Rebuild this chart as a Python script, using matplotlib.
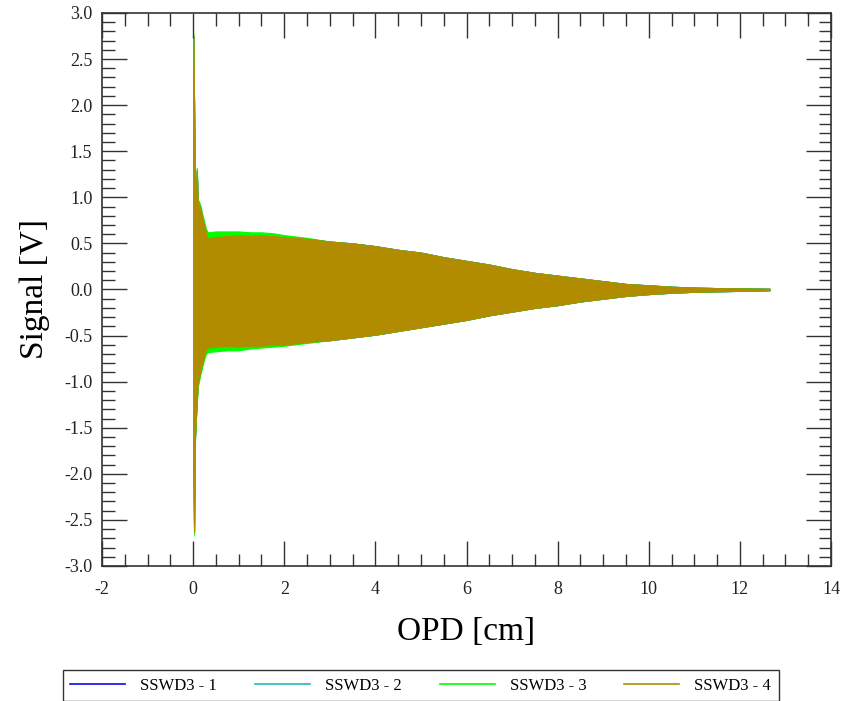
import numpy as np
import matplotlib.pyplot as plt
from matplotlib.lines import Line2D

plt.rcParams['font.family'] = ['Liberation Serif', 'DejaVu Serif']
plt.rcParams['axes.unicode_minus'] = False

# envelope of each interferogram (OPD in cm, signal in V)
opd = [0.00, 0.02, 0.04, 0.06, 0.08, 0.10, 0.13, 0.16, 0.20, 0.24, 0.28, 0.32,
       0.5, 0.75, 1.0, 1.25, 1.5, 1.75, 2.0, 2.5, 3.0, 3.5, 4.0, 4.5, 5.0, 5.5,
       6.0, 6.5, 7.0, 7.5, 8.0, 8.5, 9.0, 9.5, 10.0, 10.5, 11.0, 11.5, 12.0,
       12.3, 12.65]

sswd4_hi = [2.75, 2.02, 1.06, 1.05, 1.30, 0.95, 0.92, 0.88, 0.78, 0.70, 0.62, 0.55,
            0.57, 0.58, 0.59, 0.58, 0.59, 0.58, 0.57, 0.55, 0.52, 0.50, 0.47, 0.43,
            0.40, 0.35, 0.31, 0.27, 0.22, 0.18, 0.15, 0.12, 0.09, 0.06, 0.045,
            0.03, 0.02, 0.015, 0.012, 0.01, 0.008]
sswd4_lo = [-1.60, -2.63, -1.60, -1.38, -1.20, -1.02, -0.95, -0.88, -0.80, -0.72,
            -0.66, -0.63, -0.62, -0.61, -0.62, -0.61, -0.61, -0.60, -0.60, -0.57,
            -0.55, -0.52, -0.49, -0.45, -0.41, -0.37, -0.33, -0.28, -0.24, -0.20,
            -0.17, -0.13, -0.10, -0.07, -0.05, -0.035, -0.025, -0.02, -0.015,
            -0.012, -0.008]

sswd3_hi = [2.77, 2.04, 1.08, 1.08, 1.32, 0.98, 0.95, 0.91, 0.82, 0.74, 0.66, 0.62,
            0.63, 0.63, 0.63, 0.62, 0.62, 0.61, 0.59, 0.56, 0.52, 0.50, 0.47, 0.43,
            0.40, 0.35, 0.31, 0.27, 0.22, 0.18, 0.15, 0.12, 0.09, 0.06, 0.045,
            0.03, 0.02, 0.015, 0.012, 0.01, 0.008]
sswd3_lo = [-1.62, -2.66, -1.63, -1.42, -1.24, -1.06, -0.99, -0.92, -0.84, -0.76,
            -0.70, -0.68, -0.67, -0.66, -0.66, -0.64, -0.63, -0.62, -0.61, -0.58,
            -0.55, -0.52, -0.49, -0.45, -0.41, -0.37, -0.33, -0.28, -0.24, -0.20,
            -0.17, -0.13, -0.10, -0.07, -0.05, -0.035, -0.025, -0.02, -0.015,
            -0.012, -0.008]

sswd2_hi = [2.74, 2.01, 1.05, 1.04, 1.29, 0.94, 0.91, 0.87, 0.77, 0.69, 0.61, 0.55,
            0.57, 0.58, 0.59, 0.58, 0.59, 0.58, 0.57, 0.55, 0.52, 0.50, 0.47, 0.43,
            0.40, 0.35, 0.31, 0.27, 0.22, 0.18, 0.15, 0.12, 0.09, 0.06, 0.045,
            0.03, 0.02, 0.015, 0.012, 0.01, 0.008]
sswd2_lo = [-1.61, -2.62, -1.62, -1.41, -1.21, -1.02, -0.95, -0.88, -0.80, -0.72,
            -0.66, -0.63, -0.62, -0.61, -0.62, -0.61, -0.61, -0.60, -0.60, -0.57,
            -0.55, -0.52, -0.49, -0.45, -0.41, -0.37, -0.33, -0.28, -0.24, -0.20,
            -0.17, -0.13, -0.10, -0.07, -0.05, -0.035, -0.025, -0.02, -0.015,
            -0.012, -0.008]

sswd1_hi = [2.74, 2.01, 1.05, 1.04, 1.29, 0.94, 0.91, 0.87, 0.77, 0.69, 0.61, 0.55,
            0.57, 0.58, 0.59, 0.58, 0.59, 0.58, 0.57, 0.55, 0.52, 0.50, 0.47, 0.43,
            0.40, 0.35, 0.31, 0.27, 0.22, 0.18, 0.15, 0.12, 0.09, 0.06, 0.045,
            0.03, 0.02, 0.015, 0.012, 0.01, 0.008]
sswd1_lo = [-1.66, -2.62, -1.61, -1.38, -1.20, -1.02, -0.95, -0.88, -0.80, -0.72,
            -0.66, -0.63, -0.62, -0.61, -0.62, -0.61, -0.61, -0.60, -0.60, -0.57,
            -0.55, -0.52, -0.49, -0.45, -0.41, -0.37, -0.33, -0.28, -0.24, -0.20,
            -0.17, -0.13, -0.10, -0.07, -0.05, -0.035, -0.025, -0.02, -0.015,
            -0.012, -0.008]

names = ['SSWD3 - 1', 'SSWD3 - 2', 'SSWD3 - 3', 'SSWD3 - 4']
colors = ['#0a0ae6', '#28b4c0', '#00ff00', '#b28c00']
highs = [sswd1_hi, sswd2_hi, sswd3_hi, sswd4_hi]
lows = [sswd1_lo, sswd2_lo, sswd3_lo, sswd4_lo]

fig = plt.figure(figsize=(8.51, 7.01), dpi=100)
ax = fig.add_axes([0.1199, 0.1926, 0.8566, 0.7889])

for hi, lo, c in zip(highs, lows, colors):
    ax.fill_between(opd, lo, hi, color=c, edgecolor=c, lw=0.8)

ax.set_xlim(-2, 14)
ax.set_ylim(-3, 3)
ax.set_xticks(np.arange(-2, 15, 2))
ax.set_xticks(np.arange(-2, 14.01, 0.5), minor=True)
ax.set_yticks(np.arange(-3, 3.01, 0.5))
ax.set_yticks(np.arange(-3, 3.01, 0.1), minor=True)
ax.yaxis.set_major_formatter('{x:.1f}')
ax.xaxis.set_major_formatter('{x:.0f}')

ax.tick_params(which='both', direction='in', top=True, right=True,
               color='#333333', labelcolor='#222222')
ax.tick_params(which='major', length=18, width=1, labelsize=13)
ax.tick_params(which='minor', length=9, width=1)
ax.tick_params(axis='x', pad=11)
ax.tick_params(axis='y', pad=7)
for s in ax.spines.values():
    s.set_color('#333333')
    s.set_linewidth(1.2)

ax.set_xlabel('OPD [cm]', fontsize=24, labelpad=13)
ax.set_ylabel('Signal [V]', fontsize=24, labelpad=10)

handles = [Line2D([], [], color=c, lw=1.2) for c in colors]
leg = fig.legend(handles, names, ncol=4, loc='lower left',
                 bbox_to_anchor=(0.074, 0.0, 0.841, 0.044), mode='expand',
                 borderaxespad=0, fancybox=False, framealpha=1,
                 edgecolor='#333333', fontsize=12, handlelength=3.3,
                 handletextpad=0.9, borderpad=0.45)
leg.get_frame().set_linewidth(1.0)

fig.savefig('out.png', dpi=100)
